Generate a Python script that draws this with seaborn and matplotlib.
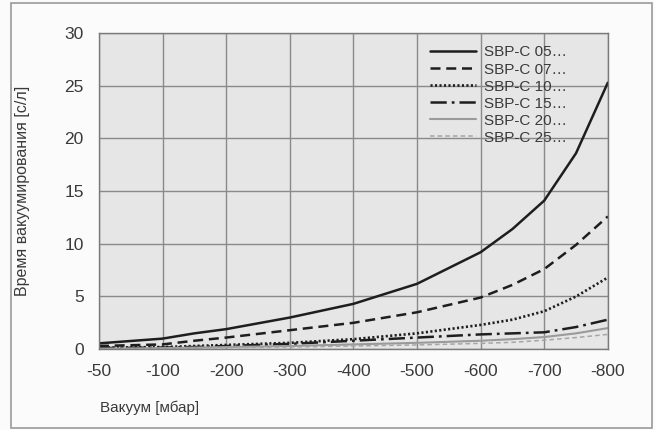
import numpy as np
import pandas as pd
import seaborn as sns
import matplotlib.pyplot as plt
from matplotlib.patches import Rectangle

# vacuum levels [mbar] and evacuation time [s/l]
vacuum = [-50, -100, -150, -200, -300, -400, -500, -600, -650, -700, -750, -800]
sbp_05 = [0.55, 1.0, 1.5, 1.9, 3.0, 4.3, 6.2, 9.2, 11.4, 14.1, 18.6, 25.3]
sbp_07 = [0.3, 0.45, 0.8, 1.1, 1.8, 2.5, 3.5, 4.9, 6.1, 7.6, 9.9, 12.6]
sbp_10 = [0.15, 0.2, 0.3, 0.4, 0.6, 0.95, 1.5, 2.3, 2.8, 3.6, 5.0, 6.8]
sbp_15 = [0.1, 0.15, 0.2, 0.3, 0.5, 0.8, 1.1, 1.4, 1.5, 1.6, 2.1, 2.8]
sbp_20 = [0.05, 0.1, 0.15, 0.2, 0.3, 0.45, 0.6, 0.8, 0.95, 1.15, 1.5, 2.0]
sbp_25 = [0.0, 0.05, 0.1, 0.15, 0.2, 0.3, 0.4, 0.55, 0.65, 0.85, 1.1, 1.4]

models = ["SBP-C 05…", "SBP-C 07…", "SBP-C 10…", "SBP-C 15…", "SBP-C 20…", "SBP-C 25…"]
x_ticks = [-50, -100, -200, -300, -400, -500, -600, -700, -800]
y_ticks = [0, 5, 10, 15, 20, 25, 30]

df = pd.DataFrame({
    "vacuum": vacuum * 6,
    "time": sbp_05 + sbp_07 + sbp_10 + sbp_15 + sbp_20 + sbp_25,
    "model": np.repeat(models, len(vacuum)),
})

colors = dict(zip(models, ["#1e1e1e", "#1e1e1e", "#1e1e1e", "#1e1e1e", "#9a9a9a", "#a6a6a6"]))
widths = dict(zip(models, [1.8, 1.8, 1.9, 1.8, 1.5, 1.1]))
dash_map = dict(zip(models, ["", (4.0, 2.3), (0.8, 0.9), (6.5, 2.0, 1.1, 2.0), "", (3, 2)]))

sns.set_style("white")
plt.rcParams["font.family"] = ["Liberation Sans", "DejaVu Sans"]
text_col = "#3a3a3a"

fig = plt.figure(figsize=(6.55, 4.30), dpi=100, facecolor="#fbfbfb")
ax = fig.add_axes([0.151, 0.188, 0.777, 0.735])
ax.set_facecolor("#e6e6e6")

# tick spacing on the x axis is not linear: each listed level is one step
mags = [-v for v in x_ticks]
steps = np.arange(len(x_ticks), dtype=float)
ax.set_xscale("function", functions=(
    lambda v: np.interp(-np.asarray(v, dtype=float), mags, steps),
    lambda p: -np.interp(np.asarray(p, dtype=float), steps, mags),
))

sns.lineplot(data=df, x="vacuum", y="time", hue="model", style="model", size="model",
             hue_order=models, style_order=models, size_order=models,
             palette=colors, dashes=dash_map, sizes=widths, ax=ax)

ax.set_xlim(-800, -50)
ax.set_ylim(0, 30)
ax.set_xticks(x_ticks)
ax.set_xticklabels([str(t) for t in x_ticks])
ax.set_yticks(y_ticks)
ax.grid(True, color="#8a8a8a", linewidth=1.0)
ax.set_axisbelow(True)
for s in ax.spines.values():
    s.set_color("#7a7a7a")
    s.set_linewidth(1.0)
ax.tick_params(length=0, labelsize=12.5, colors=text_col, pad=11)

ax.set_xlabel("")
ax.set_ylabel("")
fig.text(0.153, 0.051, "Вакуум [мбар]", fontsize=11, color=text_col, ha="left", va="center")
fig.text(0.034, 0.555, "Время вакуумирования [с/л]", fontsize=11.5, color=text_col,
         rotation=90, ha="center", va="center")

sns.move_legend(ax, "upper right", bbox_to_anchor=(0.935, 0.985), frameon=False, title=None,
                fontsize=11, handlelength=3.0, handletextpad=0.55, labelspacing=0.2,
                borderpad=0, labelcolor=text_col)

fig.patches.append(Rectangle((0.017, 0.005), 0.978, 0.988, transform=fig.transFigure,
                             fill=False, edgecolor="#9a9a9a", linewidth=1.2))

fig.savefig("out.png", dpi=100, facecolor=fig.get_facecolor())
